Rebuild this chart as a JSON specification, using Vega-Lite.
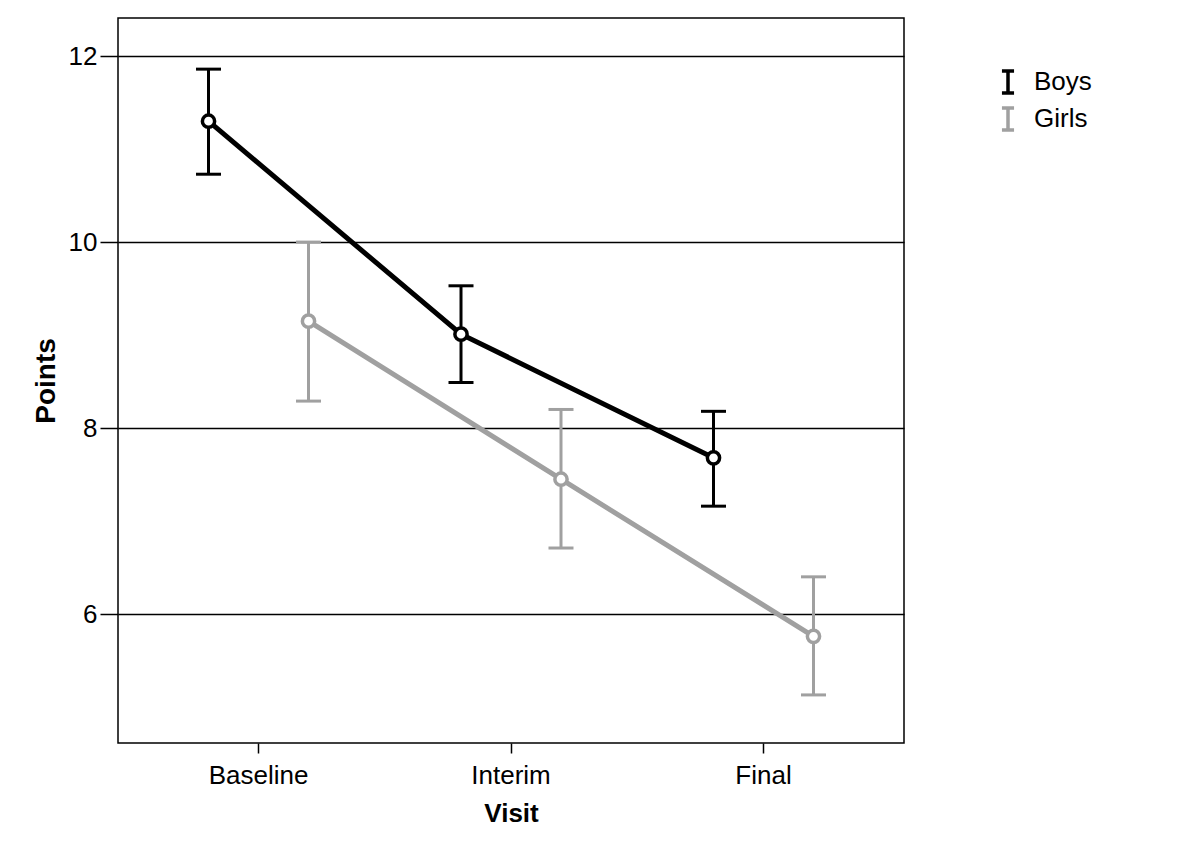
{
  "$schema": "https://vega.github.io/schema/vega-lite/v6.json",
  "width": 786,
  "height": 725,
  "autosize": "none",
  "padding": {"left": 118, "top": 18, "right": 296, "bottom": 108},
  "background": "white",
  "config": {
    "font": "Liberation Sans",
    "view": {"stroke": "black", "strokeWidth": 1.5},
    "axis": {"labelColor": "black", "titleColor": "black", "tickColor": "black", "domain": false, "labelFont": "Liberation Sans", "titleFont": "Liberation Sans"}
  },
  "data": {
    "values": [
      {"Visit": "Baseline", "Sex": "Boys", "Mean": 11.30, "Lower": 10.73, "Upper": 11.86},
      {"Visit": "Interim", "Sex": "Boys", "Mean": 9.01, "Lower": 8.49, "Upper": 9.53},
      {"Visit": "Final", "Sex": "Boys", "Mean": 7.68, "Lower": 7.16, "Upper": 8.18},
      {"Visit": "Baseline", "Sex": "Girls", "Mean": 9.15, "Lower": 8.29, "Upper": 10.0},
      {"Visit": "Interim", "Sex": "Girls", "Mean": 7.45, "Lower": 6.71, "Upper": 8.20},
      {"Visit": "Final", "Sex": "Girls", "Mean": 5.76, "Lower": 5.13, "Upper": 6.40}
    ]
  },
  "encoding": {
    "x": {
      "field": "Visit", "type": "nominal", "sort": ["Baseline", "Interim", "Final"],
      "scale": {"type": "band", "paddingInner": 0, "paddingOuter": 0.0565},
      "axis": {"title": "Visit", "labelAngle": 0, "labelFontSize": 26, "titleFontSize": 26, "titleFontWeight": "bold", "tickSize": 10, "tickWidth": 1.5, "labelPadding": 9, "titlePadding": 12, "grid": false, "tickBand": "center"}
    },
    "xOffset": {"field": "Sex", "type": "nominal", "scale": {"type": "point", "domain": ["Boys", "Girls"], "padding": 0.7625}},
    "color": {
      "field": "Sex", "type": "nominal",
      "scale": {"domain": ["Boys", "Girls"], "range": ["#000000", "#a0a0a0"]},
      "legend": {
        "title": null, "orient": "none", "legendX": 877, "legendY": 51,
        "symbolType": "M-0.55,-1H0.55M0,-1V1M-0.55,1H0.55",
        "symbolSize": 484, "symbolStrokeWidth": 3.5, "symbolFillColor": "transparent", "symbolOpacity": 1,
        "labelFontSize": 26, "labelColor": "black", "labelOffset": 13, "rowPadding": 1, "padding": 0, "symbolOffset": 0
      }
    }
  },
  "layer": [
    {
      "mark": {"type": "rule", "strokeWidth": 3, "opacity": 1},
      "encoding": {
        "y": {"field": "Lower", "type": "quantitative",
          "scale": {"domain": [4.613, 12.41], "nice": false, "zero": false},
          "axis": {"title": "Points", "values": [6, 8, 10, 12], "format": "d", "labelFontSize": 26, "titleFontSize": 28, "titleFontWeight": "bold", "tickSize": 18, "tickWidth": 1.5, "labelPadding": 3, "titlePadding": 8, "grid": true, "gridColor": "black", "gridWidth": 1.5, "gridOpacity": 1}},
        "y2": {"field": "Upper"}
      }
    },
    {
      "mark": {"type": "tick", "thickness": 3, "size": 25, "orient": "horizontal", "opacity": 1},
      "encoding": {"y": {"field": "Upper", "type": "quantitative"}}
    },
    {
      "mark": {"type": "tick", "thickness": 3, "size": 25, "orient": "horizontal", "opacity": 1},
      "encoding": {"y": {"field": "Lower", "type": "quantitative"}}
    },
    {
      "mark": {"type": "line", "strokeWidth": 5},
      "encoding": {"y": {"field": "Mean", "type": "quantitative"}}
    },
    {
      "mark": {"type": "point", "shape": "circle", "filled": false, "fill": "white", "size": 150, "strokeWidth": 3.5, "opacity": 1},
      "encoding": {"y": {"field": "Mean", "type": "quantitative"}}
    }
  ]
}
